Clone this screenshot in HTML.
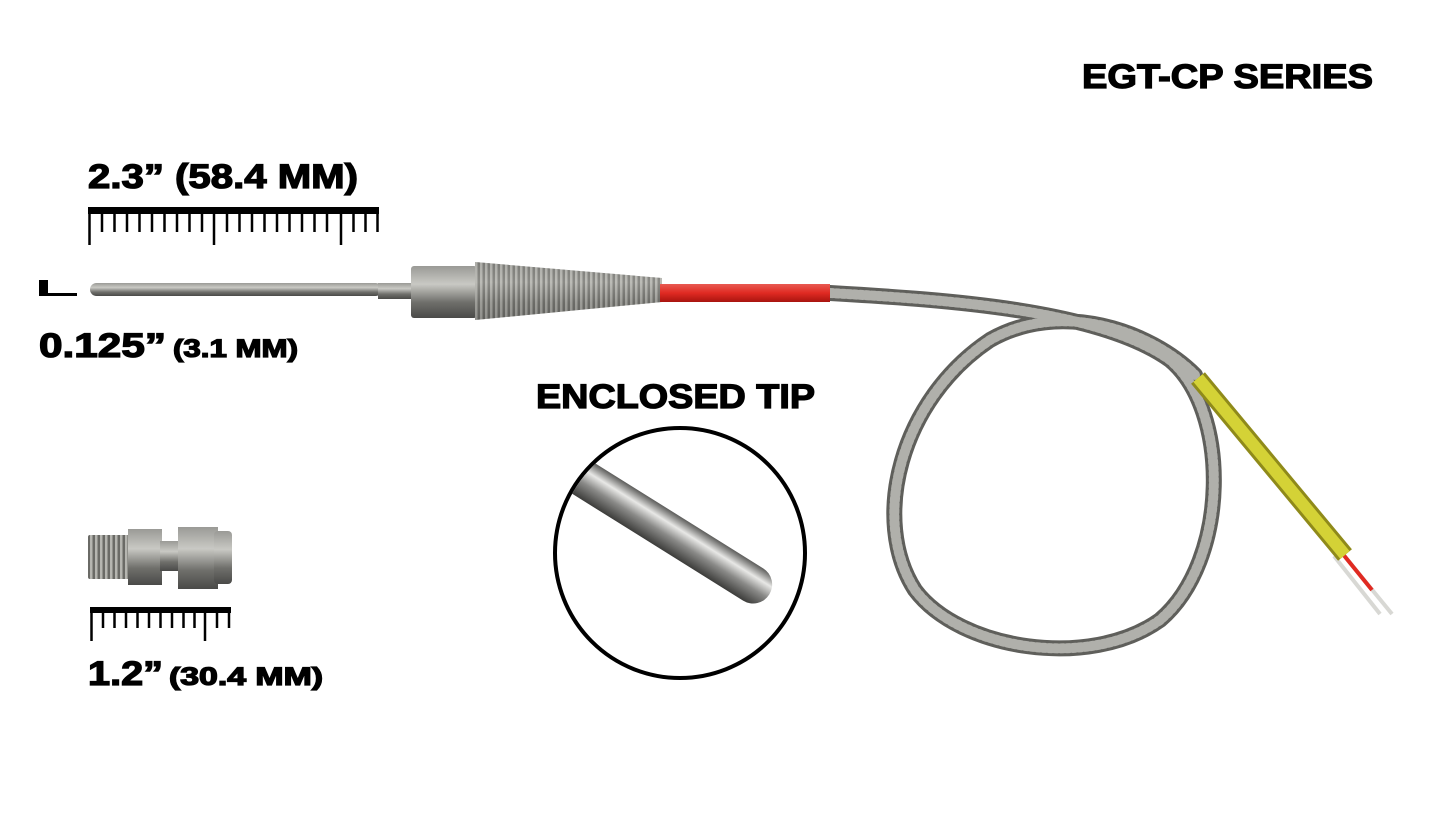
<!DOCTYPE html>
<html><head><meta charset="utf-8"><style>
html,body{margin:0;padding:0;background:#fff;}
svg{display:block}
text{font-family:"Liberation Sans",Arial,sans-serif;font-weight:bold;fill:#000;stroke:#000;stroke-width:1.3}
</style></head><body>
<svg width="1445" height="813" viewBox="0 0 1445 813" xmlns="http://www.w3.org/2000/svg">
<defs>
<linearGradient id="rod" x1="0" y1="0" x2="0" y2="1">
<stop offset="0" stop-color="#9a9a96"/><stop offset="0.35" stop-color="#c9c9c4"/><stop offset="0.7" stop-color="#6f6f6b"/><stop offset="1" stop-color="#4a4a48"/></linearGradient>
<linearGradient id="red" x1="0" y1="0" x2="0" y2="1">
<stop offset="0" stop-color="#e85a52"/><stop offset="0.5" stop-color="#e02a22"/><stop offset="1" stop-color="#a8140f"/></linearGradient>
<pattern id="coil" width="5" height="60" patternUnits="userSpaceOnUse">
<rect width="5" height="60" fill="#6a6a66"/><rect width="2.5" height="60" fill="#b5b5b0"/></pattern>
<linearGradient id="tip" x1="0" y1="0" x2="0" y2="1">
<stop offset="0" stop-color="#5c5c5a"/><stop offset="0.3" stop-color="#e8e8e6"/><stop offset="0.6" stop-color="#8a8a88"/><stop offset="1" stop-color="#3c3c3a"/></linearGradient>
<clipPath id="cc"><circle cx="680" cy="553" r="123"/></clipPath>
</defs>

<text x="1082" y="88" font-size="34" textLength="291" lengthAdjust="spacingAndGlyphs">EGT-CP SERIES</text>
<text x="88" y="188" font-size="34" textLength="270" lengthAdjust="spacingAndGlyphs">2.3” (58.4 MM)</text>
<text x="39" y="357" font-size="34" textLength="127" lengthAdjust="spacingAndGlyphs">0.125”</text>
<text x="173" y="357" font-size="25" textLength="125" lengthAdjust="spacingAndGlyphs">(3.1 MM)</text>
<text x="536" y="408" font-size="34" textLength="279" lengthAdjust="spacingAndGlyphs">ENCLOSED TIP</text>
<text x="88" y="685" font-size="34" textLength="75" lengthAdjust="spacingAndGlyphs">1.2”</text>
<text x="169" y="685" font-size="25" textLength="154" lengthAdjust="spacingAndGlyphs">(30.4 MM)</text>

<!-- top ruler -->
<rect x="88" y="207" width="291" height="7" fill="#000"/>
<g stroke="#000" stroke-width="2.5">
<line x1="89.5" y1="207" x2="89.5" y2="245"/>
<line x1="214" y1="207" x2="214" y2="245"/>
<line x1="341" y1="207" x2="341" y2="245"/>
<line x1="377.5" y1="207" x2="377.5" y2="232"/>
</g>
<g stroke="#000" stroke-width="2.5">
<line x1="102" y1="210" x2="102" y2="232"/><line x1="114.5" y1="210" x2="114.5" y2="232"/><line x1="127" y1="210" x2="127" y2="232"/><line x1="139.5" y1="210" x2="139.5" y2="232"/><line x1="152" y1="210" x2="152" y2="232"/><line x1="164.5" y1="210" x2="164.5" y2="232"/><line x1="177" y1="210" x2="177" y2="232"/><line x1="189.5" y1="210" x2="189.5" y2="232"/><line x1="202" y1="210" x2="202" y2="232"/><line x1="227" y1="210" x2="227" y2="232"/><line x1="239.5" y1="210" x2="239.5" y2="232"/><line x1="252" y1="210" x2="252" y2="232"/><line x1="264.5" y1="210" x2="264.5" y2="232"/><line x1="277" y1="210" x2="277" y2="232"/><line x1="289.5" y1="210" x2="289.5" y2="232"/><line x1="302" y1="210" x2="302" y2="232"/><line x1="314.5" y1="210" x2="314.5" y2="232"/><line x1="327" y1="210" x2="327" y2="232"/><line x1="353.5" y1="210" x2="353.5" y2="232"/><line x1="365.5" y1="210" x2="365.5" y2="232"/>
</g>

<!-- bottom ruler -->
<rect x="90" y="607" width="141" height="6" fill="#000"/>
<g stroke="#000" stroke-width="2.5">
<line x1="91.5" y1="607" x2="91.5" y2="641"/><line x1="205" y1="607" x2="205" y2="641"/>
<line x1="103" y1="610" x2="103" y2="628"/><line x1="114.5" y1="610" x2="114.5" y2="628"/><line x1="126" y1="610" x2="126" y2="628"/><line x1="137.5" y1="610" x2="137.5" y2="628"/><line x1="149" y1="610" x2="149" y2="628"/><line x1="160.5" y1="610" x2="160.5" y2="628"/><line x1="172" y1="610" x2="172" y2="628"/><line x1="183.5" y1="610" x2="183.5" y2="628"/><line x1="194.5" y1="610" x2="194.5" y2="628"/><line x1="217" y1="610" x2="217" y2="628"/><line x1="229" y1="610" x2="229" y2="628"/>
</g>

<!-- small diameter marker -->
<rect x="39" y="280" width="9" height="16" fill="#000"/>
<rect x="39" y="293" width="38" height="3" fill="#000"/>

<!-- fitting -->
<rect x="88" y="535" width="42" height="44" fill="url(#coil)" rx="2"/>
<rect x="128" y="529" width="34" height="56" fill="url(#rod)"/>
<rect x="160" y="541" width="20" height="30" fill="url(#rod)"/>
<rect x="178" y="527" width="40" height="62" fill="url(#rod)"/>
<rect x="214" y="531" width="18" height="53" fill="url(#rod)" rx="4"/>

<!-- braided cable -->
<g fill="none" stroke-linecap="round">
<path d="M830 293 C 950 300, 1100 310, 1170 360 C 1230 410, 1230 560, 1160 620 C 1090 670, 960 650, 915 590 C 870 520, 900 400, 990 340 C 1060 300, 1150 330, 1195 375" stroke="#5f5f5b" stroke-width="16"/>
<path d="M830 293 C 950 300, 1100 310, 1170 360 C 1230 410, 1230 560, 1160 620 C 1090 670, 960 650, 915 590 C 870 520, 900 400, 990 340 C 1060 300, 1150 330, 1195 375" stroke="#b0b0ab" stroke-width="10" stroke-dasharray="3 3"/>
</g>
<!-- yellow sleeve and wires -->
<line x1="1342" y1="553" x2="1392" y2="614" stroke="#d8d8d4" stroke-width="4"/>
<line x1="1334" y1="556" x2="1380" y2="614" stroke="#d8d8d4" stroke-width="4"/>
<line x1="1342" y1="553" x2="1372" y2="590" stroke="#e02a22" stroke-width="4"/>
<line x1="1198" y1="378" x2="1345" y2="555" stroke="#8f8a1a" stroke-width="18" stroke-linecap="butt"/>
<line x1="1198" y1="378" x2="1345" y2="555" stroke="#d4d236" stroke-width="12" stroke-linecap="butt"/>

<!-- probe -->
<rect x="90" y="283" width="292" height="13" rx="6.5" fill="url(#rod)"/>
<rect x="378" y="283" width="36" height="16" fill="url(#rod)"/>
<rect x="411" y="266" width="66" height="52" fill="url(#rod)" rx="3"/>
<path d="M475 262 L662 278 L662 302 L475 320 Z" fill="url(#coil)"/>
<path d="M475 262 L662 278 L662 302 L475 320 Z" fill="url(#rod)" opacity="0.35"/>
<rect x="660" y="284" width="170" height="18" fill="url(#red)"/>

<!-- circle detail -->
<circle cx="680" cy="553" r="125" fill="#fff" stroke="#000" stroke-width="4"/>
<g clip-path="url(#cc)">
<g transform="translate(754,585) rotate(32)">
<rect x="-240" y="-19" width="258" height="38" rx="19" fill="url(#tip)"/>
</g>
</g>
</svg>
</body></html>
